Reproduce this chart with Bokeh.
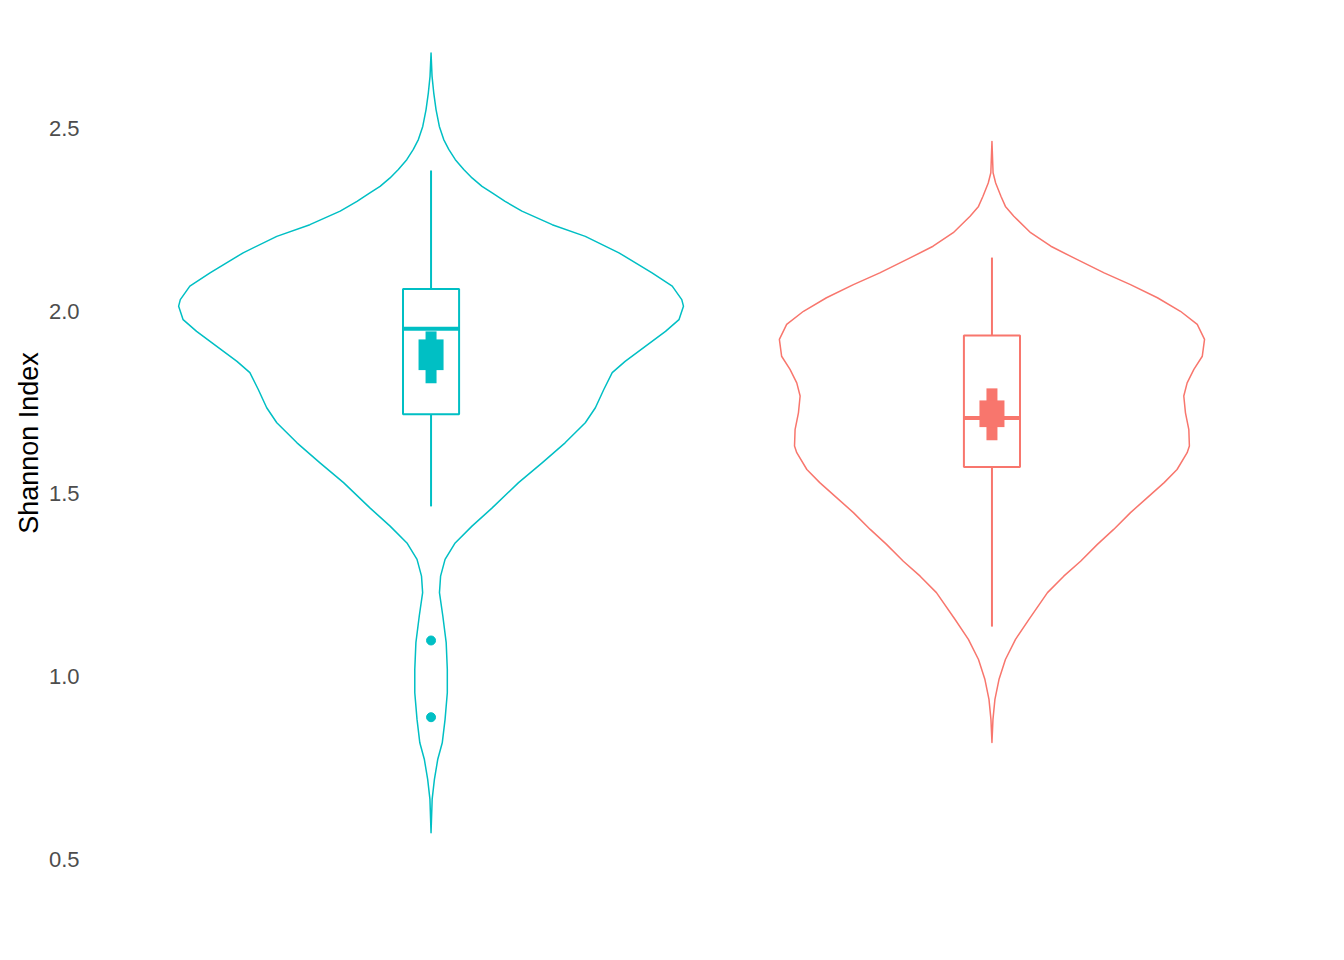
import numpy as np
from bokeh.plotting import figure
from bokeh.models import ColumnDataSource, FixedTicker, PrintfTickFormatter, Range1d
from bokeh.embed import file_html
from bokeh.resources import INLINE

# two groups, teal at position 1, salmon at position 2
groups = ["group1", "group2"]
colors = ["#00BFC4", "#F8766D"]
positions = [1, 2]

# violin outline: Shannon value and half width (x units)
violin1_y = [2.707, 2.643, 2.598, 2.552, 2.506, 2.470, 2.443, 2.415, 2.388, 2.365,
             2.342, 2.324, 2.301, 2.274, 2.237, 2.205,
             2.160, 2.105, 2.069, 2.032, 2.014, 1.977, 1.945, 1.904, 1.863, 1.832,
             1.786, 1.736, 1.695, 1.640, 1.585, 1.531, 1.462, 1.412, 1.366, 1.321,
             1.275, 1.230, 1.166, 1.093, 1.020, 0.956, 0.883, 0.819, 0.774, 0.719,
             0.665, 0.573]
violin1_w = [0.000, 0.0018, 0.0048, 0.0089, 0.0148, 0.0226, 0.0316, 0.0433, 0.0583, 0.0731,
             0.0909, 0.109, 0.132, 0.162, 0.216, 0.275,
             0.335, 0.394, 0.430, 0.447, 0.450, 0.442, 0.418, 0.382, 0.346, 0.323,
             0.308, 0.293, 0.275, 0.239, 0.198, 0.156, 0.109, 0.073, 0.043, 0.025,
             0.017, 0.015, 0.021, 0.027, 0.029, 0.029, 0.025, 0.020, 0.012, 0.006,
             0.002, 0.000]

violin2_y = [2.465, 2.379, 2.351, 2.315, 2.287, 2.260, 2.215, 2.178, 2.146, 2.105, 2.073, 2.037,
             2.000, 1.964, 1.923, 1.877, 1.841, 1.804, 1.768, 1.722, 1.676, 1.631,
             1.613, 1.567, 1.531, 1.490, 1.449, 1.403, 1.362, 1.316, 1.275, 1.230,
             1.157, 1.102, 1.047, 0.992, 0.938, 0.883, 0.820]
violin2_w = [0.000, 0.002, 0.0066, 0.016, 0.024, 0.039, 0.069, 0.105, 0.146, 0.200, 0.247, 0.295,
             0.336, 0.366, 0.379, 0.375, 0.360, 0.348, 0.342, 0.345, 0.351, 0.352,
             0.348, 0.330, 0.307, 0.277, 0.247, 0.217, 0.188, 0.158, 0.128, 0.099,
             0.066, 0.042, 0.024, 0.0125, 0.0053, 0.0018, 0.000]

# box plot stats
q1 = [1.718, 1.574]
median = [1.952, 1.708]
q3 = [2.061, 1.934]
whisk_lo = [1.466, 1.137]
whisk_hi = [2.385, 2.147]
outlier_group = [1, 1]
outlier_y = [1.099, 0.889]

# summary bars (narrow = outer interval, wide = inner interval)
outer_lo = [1.803, 1.647]
outer_hi = [1.945, 1.789]
inner_lo = [1.839, 1.683]
inner_hi = [1.923, 1.756]

y_ticks = [0.5, 1.0, 1.5, 2.0, 2.5]

p = figure(width=1328, height=944, output_backend="svg", toolbar_location=None,
           x_range=Range1d(0.4, 2.6), y_range=Range1d(0.464, 2.815),
           min_border_left=94, min_border_right=0, min_border_top=13, min_border_bottom=72)
p.outline_line_color = None
p.grid.grid_line_color = None
p.xaxis.visible = False
p.background_fill_color = "white"

violins = [(violin1_y, violin1_w), (violin2_y, violin2_w)]
for i, (vy, vw) in enumerate(violins):
    c = positions[i]
    vy = np.array(vy)
    vw = np.array(vw)
    xs = list(c - vw) + list((c + vw)[::-1])
    ys = list(vy) + list(vy[::-1])
    p.patch(xs, ys, fill_alpha=0, line_color=colors[i], line_width=1.5, line_join="round")

bw = 0.05
src = ColumnDataSource(dict(
    x=positions, left=[x - bw for x in positions], right=[x + bw for x in positions],
    q1=q1, q3=q3, med=median, wlo=whisk_lo, whi=whisk_hi, color=colors,
    olo=outer_lo, ohi=outer_hi, ilo=inner_lo, ihi=inner_hi,
    nl=[x - 0.0098 for x in positions], nr=[x + 0.0098 for x in positions],
    wl=[x - 0.0223 for x in positions], wr=[x + 0.0223 for x in positions],
))

p.segment(x0="x", y0="q3", x1="x", y1="whi", source=src, line_color="color", line_width=2)
p.segment(x0="x", y0="wlo", x1="x", y1="q1", source=src, line_color="color", line_width=2)
p.quad(left="left", right="right", bottom="q1", top="q3", source=src,
       fill_color="white", line_color="color", line_width=2)
p.segment(x0="left", y0="med", x1="right", y1="med", source=src, line_color="color", line_width=4)
p.quad(left="nl", right="nr", bottom="olo", top="ohi", source=src,
       fill_color="color", line_color=None)
p.quad(left="wl", right="wr", bottom="ilo", top="ihi", source=src,
       fill_color="color", line_color=None)

p.scatter(x=outlier_group, y=outlier_y, size=9, color=colors[0])

ax = p.yaxis[0]
ax.ticker = FixedTicker(ticks=y_ticks)
ax.formatter = PrintfTickFormatter(format="%.1f")
ax.axis_line_color = None
ax.major_tick_line_color = None
ax.minor_tick_line_color = None
ax.major_tick_out = 0
ax.minor_tick_out = 0
ax.major_label_standoff = 15
ax.major_label_text_font = "Liberation Sans"
ax.major_label_text_font_size = "22px"
ax.major_label_text_color = "#4D4D4D"
ax.axis_label = "Shannon Index"
ax.axis_label_text_font = "Liberation Sans"
ax.axis_label_text_font_size = "27px"
ax.axis_label_text_font_style = "normal"
ax.axis_label_text_color = "black"
ax.axis_label_standoff = 2

open("out.html", "w").write(file_html(p, INLINE))
